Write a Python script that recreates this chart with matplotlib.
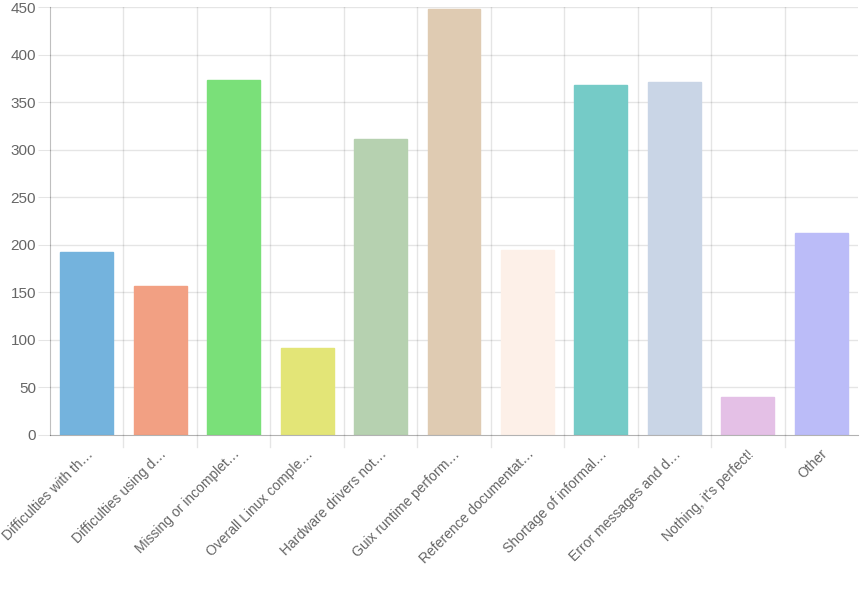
import numpy as np
import matplotlib.pyplot as plt
import matplotlib.transforms as mtransforms

plt.rcParams['font.family'] = ['Liberation Sans', 'DejaVu Sans']

# Categories (truncated as on the chart) and counts
labels = ['Difficulties with th…', 'Difficulties using d…', 'Missing or incomplet…',
          'Overall Linux comple…', 'Hardware drivers not…', 'Guix runtime perform…',
          'Reference documentat…', 'Shortage of informal…', 'Error messages and d…',
          "Nothing, it's perfect!", 'Other']
values = [192, 157, 373, 91, 311, 448, 194, 368, 371, 40, 212]
colors = ['#74b3dd', '#f2a083', '#7ae079', '#e3e577', '#b6d1b0', '#dfcbb2',
          '#fdf0e8', '#75cbc7', '#c9d5e6', '#e4c0e6', '#bbbcf8']

W, H = 861, 598
fig = plt.figure(figsize=(W / 100, H / 100), dpi=100)
ax = fig.add_axes([50 / W, (H - 435) / H, (858 - 50) / W, (435 - 7) / H])

x = np.arange(len(values))
ax.bar(x, values, width=0.72, color=colors, edgecolor=colors, linewidth=1, zorder=3)

ax.set_xlim(-0.5, len(values) - 0.5)
ax.set_ylim(0, 450)
ax.set_yticks(np.arange(0, 451, 50))

# grid lines: horizontal at ticks, vertical between categories
grid_c = (0, 0, 0, 0.1)
for yv in np.arange(50, 451, 50):
    ax.axhline(yv, color=grid_c, linewidth=1, zorder=1)
for xv in np.arange(0.5, len(values) - 0.5, 1):
    ax.axvline(xv, color=grid_c, linewidth=1, zorder=1)
    ax.plot([xv, xv], [0, -0.028], transform=ax.get_xaxis_transform(),
            color=grid_c, linewidth=1, clip_on=False)

for s in ['top', 'right']:
    ax.spines[s].set_visible(False)
ax.spines['left'].set_color((0, 0, 0, 0.25))
ax.spines['bottom'].set_color((0, 0, 0, 0.3))
ax.spines['bottom'].set_zorder(4)

ax.set_xticks(x)
ax.set_xticklabels(labels, rotation=45, ha='right', va='center', rotation_mode='anchor',
                   fontsize=10, color='#666666')
ax.tick_params(axis='x', length=0, pad=10)
ax.tick_params(axis='y', length=9, color=grid_c, labelsize=11, labelcolor='#666666', pad=1)

shift = mtransforms.ScaledTranslation(4 / 100, -3 / 100, fig.dpi_scale_trans)
for t in ax.get_xticklabels():
    t.set_transform(t.get_transform() + shift)

fig.savefig('out.png', dpi=100)
